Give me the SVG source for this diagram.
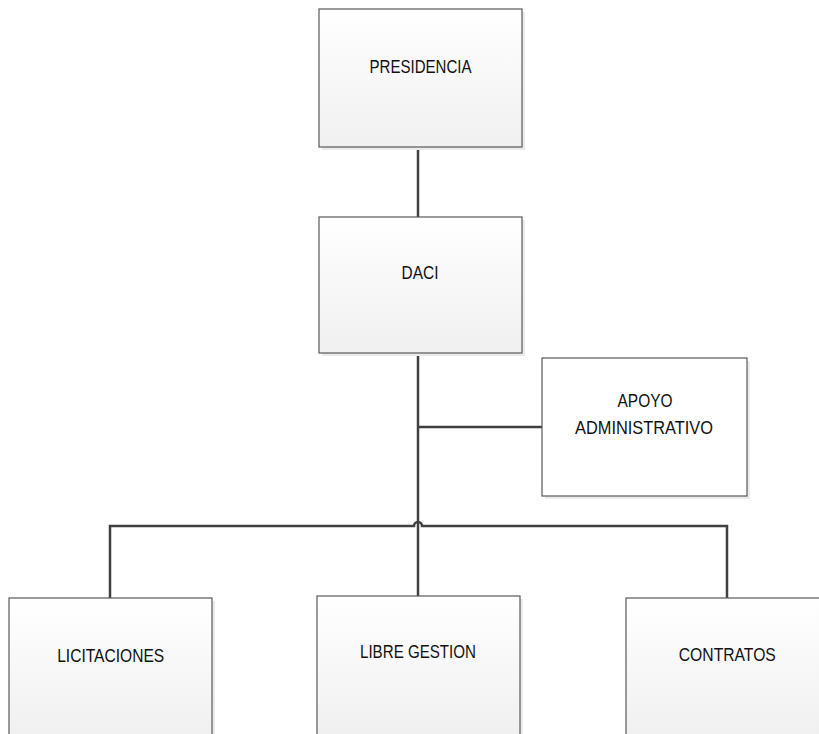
<svg xmlns="http://www.w3.org/2000/svg" width="819" height="734" viewBox="0 0 819 734">
<defs>
<linearGradient id="boxfill" x1="0" y1="0" x2="0" y2="1">
<stop offset="0" stop-color="#ffffff"/>
<stop offset="1" stop-color="#f0f0f0"/>
</linearGradient>
<style>
.shadow{fill:#ebebeb;stroke:none}
.box{fill:url(#boxfill);stroke:#595959;stroke-width:1.2}
.boxw{fill:#ffffff;stroke:#595959;stroke-width:1.2}
.lbl{font-family:"Liberation Sans",Arial,sans-serif;font-size:19px;fill:#111111;text-anchor:middle}
.con{fill:none;stroke:#404040;stroke-width:2.5}
</style>
</defs>
<rect width="819" height="734" fill="#ffffff"/>
<g id="connectors">
<path class="con" d="M418 147 V217"/>
<path class="con" d="M418 353 V596"/>
<path class="con" d="M417 353 H430"/>
<path class="con" d="M418 427 H542"/>
<path class="con" d="M110 598 V526 H414 A4 4 0 0 1 422 526 H727 V598"/>
</g>
<g id="presidencia">
<rect class="shadow" x="322" y="12" width="203" height="138"/>
<rect class="box" x="319" y="9" width="203" height="138"/>
<text class="lbl" x="420.5" y="72.5" textLength="102" lengthAdjust="spacingAndGlyphs">PRESIDENCIA</text>
</g>
<g id="daci">
<rect class="shadow" x="322" y="220" width="203" height="136"/>
<rect class="box" x="319" y="217" width="203" height="136"/>
<text class="lbl" x="420" y="279" textLength="37" lengthAdjust="spacingAndGlyphs">DACI</text>
</g>
<g id="apoyo">
<rect class="shadow" x="545" y="361" width="205" height="138"/>
<rect class="boxw" x="542" y="358" width="205" height="138"/>
<text class="lbl" x="645" y="406.5" textLength="55" lengthAdjust="spacingAndGlyphs">APOYO</text>
<text class="lbl" x="644" y="434" textLength="138" lengthAdjust="spacingAndGlyphs">ADMINISTRATIVO</text>
</g>
<g id="licitaciones">
<rect class="shadow" x="12" y="601" width="203" height="140"/>
<rect class="box" x="9" y="598" width="203" height="140"/>
<text class="lbl" x="110.7" y="661.5" textLength="107" lengthAdjust="spacingAndGlyphs">LICITACIONES</text>
</g>
<g id="libregestion">
<rect class="shadow" x="320" y="599" width="203" height="140"/>
<rect class="box" x="317" y="596" width="203" height="140"/>
<text class="lbl" x="418" y="658" textLength="116" lengthAdjust="spacingAndGlyphs">LIBRE GESTION</text>
</g>
<g id="contratos">
<rect class="shadow" x="629" y="601" width="203" height="140"/>
<rect class="box" x="626" y="598" width="203" height="140"/>
<text class="lbl" x="727.3" y="661" textLength="97" lengthAdjust="spacingAndGlyphs">CONTRATOS</text>
</g>
</svg>
